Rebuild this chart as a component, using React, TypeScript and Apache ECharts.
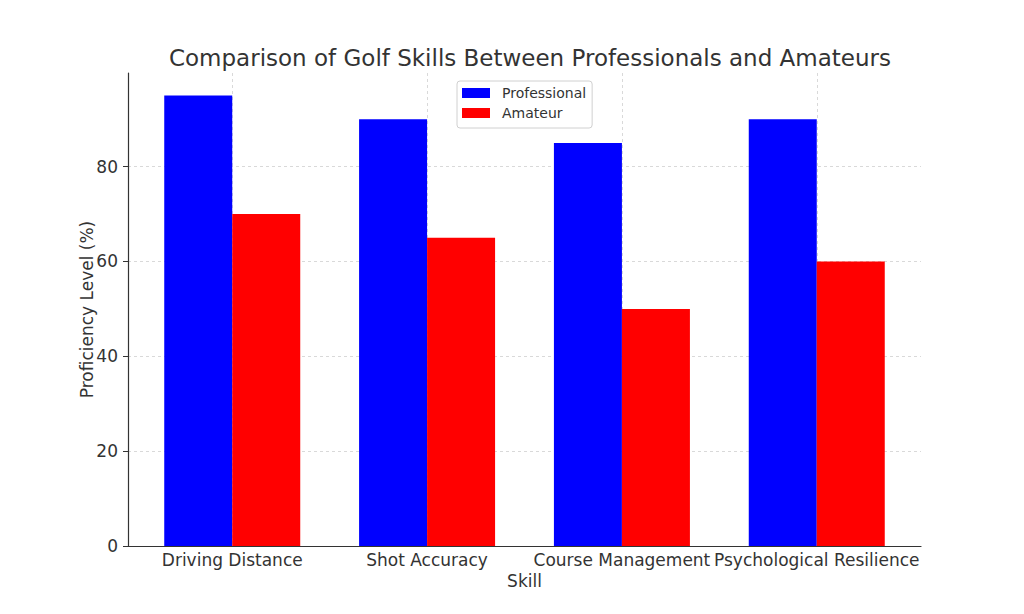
import React, { useEffect, useRef } from "react";
import * as echarts from "echarts";

const categories = ["Driving Distance", "Shot Accuracy", "Course Management", "Psychological Resilience"];
const professional = [95, 90, 85, 90];
const amateur = [70, 65, 50, 60];
const yTicks = [0, 20, 40, 60, 80];

const FONT = "DejaVu Sans";
const TXT = "#333";

export default function App() {
  const ref = useRef<HTMLDivElement>(null);
  useEffect(() => {
    const chart = echarts.init(ref.current!, null, { renderer: "svg" });
    const idx = categories.map((_, i) => i);
    chart.setOption({
      animation: false,
      textStyle: { fontFamily: FONT },
      title: {
        text: "Comparison of Golf Skills Between Professionals and Amateurs",
        left: 525,
        textAlign: "center",
        top: 41,
        textStyle: { fontFamily: FONT, fontSize: 23, fontWeight: "normal", color: TXT },
      },
      legend: {
        orient: "vertical",
        left: 457,
        top: 81,
        itemWidth: 28,
        itemHeight: 10,
        itemGap: 6,
        padding: [5, 6, 8, 5],
        borderColor: "#d0d0d0",
        borderWidth: 1,
        borderRadius: 3,
        icon: "rect",
        textStyle: { fontFamily: FONT, fontSize: 14, color: TXT, padding: [0, 0, 0, 7] },
        data: ["Professional", "Amateur"],
      },
      grid: { left: 128, right: 103, top: 73, bottom: 68, containLabel: false },
      xAxis: {
        type: "value",
        min: -0.535,
        max: 3.535,
        name: "Skill",
        nameLocation: "middle",
        nameGap: 26,
        nameMoveOverlap: false,
        nameTextStyle: { fontFamily: FONT, fontSize: 17, color: TXT },
        axisLine: { show: true, onZero: false, lineStyle: { color: "#333", width: 1.2 } },
        axisTick: { show: false },
        axisLabel: {
          customValues: idx,
          formatter: (v: number) => categories[Math.round(v)] ?? "",
          fontFamily: FONT,
          fontSize: 17,
          color: TXT,
          margin: 5,
        },
        splitLine: {
          show: true,
          lineStyle: {
            color: ["rgba(0,0,0,0)", "#cfcfcf", "#cfcfcf", "#cfcfcf", "#cfcfcf", "rgba(0,0,0,0)"],
            type: [3, 3],
            width: 0.8,
          },
        },
      },
      yAxis: {
        type: "value",
        min: 0,
        max: 99.75,
        interval: 20,
        name: "Proficiency Level (%)",
        nameLocation: "middle",
        nameGap: 33,
        nameMoveOverlap: false,
        nameTextStyle: { fontFamily: FONT, fontSize: 17, color: TXT },
        axisLine: { show: true, onZero: false, lineStyle: { color: "#333", width: 1.2 } },
        axisTick: { show: true, length: 5, customValues: yTicks, lineStyle: { color: "#333" } },
        axisLabel: {
          customValues: yTicks,
          fontFamily: FONT,
          fontSize: 17,
          color: TXT,
          margin: 10,
        },
        splitLine: {
          show: true,
          lineStyle: {
            color: ["#cfcfcf", "#cfcfcf", "#cfcfcf", "#cfcfcf", "#cfcfcf", "rgba(0,0,0,0)"],
            type: [3, 3],
            width: 0.8,
          },
        },
      },
      series: [
        {
          name: "Professional",
          type: "bar",
          barWidth: 68,
          barGap: "0%",
          itemStyle: { color: "#0000ff" },
          data: professional.map((v, i) => [i, v]),
        },
        {
          name: "Amateur",
          type: "bar",
          barWidth: 68,
          barGap: "0%",
          itemStyle: { color: "#ff0000" },
          data: amateur.map((v, i) => [i, v]),
        },
      ],
    });
    return () => chart.dispose();
  }, []);
  return <div ref={ref} style={{ width: 1024, height: 614, margin: -8 }} />;
}
